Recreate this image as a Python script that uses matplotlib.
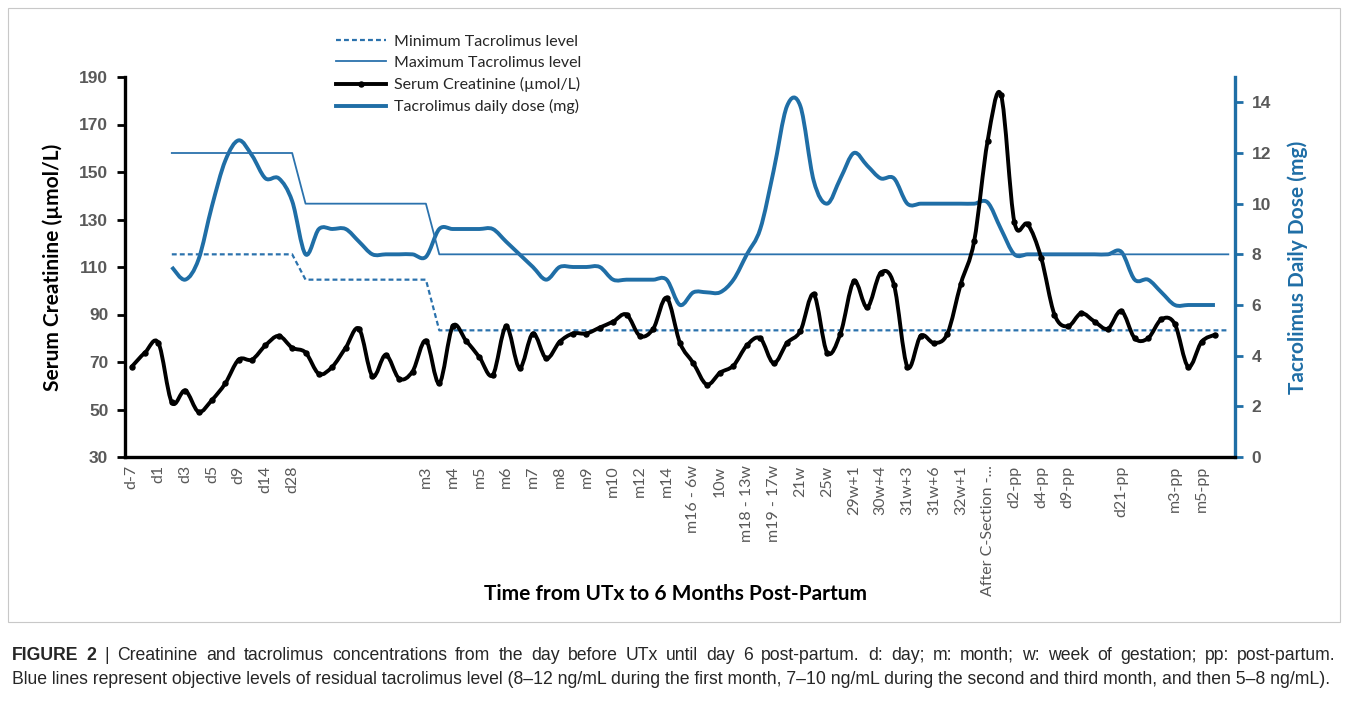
import matplotlib
matplotlib.use("Agg")
import matplotlib.pyplot as plt
from matplotlib.path import Path
from matplotlib.patches import PathPatch, Rectangle
from matplotlib.lines import Line2D

# =============================
# DATA
# =============================

# labels shown on every second category (index 0, 2, 4, ...)
X_LABELS = [
    "d-7", "d1", "d3", "d5", "d9", "d14", "d28", "", "", "", "",
    "m3", "m4", "m5", "m6", "m7", "m8", "m9", "m10", "m12", "m14",
    "m16 - 6w", "10w", "m18 - 13w", "m19 - 17w", "21w", "25w",
    "29w+1", "30w+4", "31w+3", "31w+6", "32w+1", "After C-Section -...",
    "d2-pp", "d4-pp", "d9-pp", "", "d21-pp", "", "m3-pp", "m5-pp", "",
]
N_CATEGORIES = 83

# serum creatinine (umol/L), categories 0..81
CREATININE = [
    68, 74, 78, 53, 58, 49, 54, 61, 71, 71,
    77, 81, 76, 74, 65, 68, 76, 84, 64, 73,
    63, 66, 79, 61, 85, 79, 72, 64.5, 85, 67.5,
    82, 71.5, 78.5, 82, 82, 84.5, 87, 90, 81, 84,
    97, 78, 69.5, 60.5, 65.5, 68.5, 77, 80, 69.5, 78,
    83, 98.5, 74, 82, 104, 93, 107.5, 102.5, 68, 81,
    78, 82, 103, 121, 163, 182.5, 129, 128, 114, 90,
    85, 90.5, 87, 84, 91.5, 80, 80, 88, 86, 68,
    78.5, 81.5,
]

# tacrolimus daily dose (mg), categories 3..81
DOSE_START = 3
DOSE = [
    7.5, 7.0, 7.8, 9.9, 11.7, 12.5, 11.9, 11.0, 11.0, 10.1,
    8.0, 9.0, 9.0, 9.0, 8.5, 8.0, 8.0, 8.0, 8.0, 7.9,
    9.0, 9.0, 9.0, 9.0, 9.0, 8.5, 8.0, 7.5, 7.0, 7.5,
    7.5, 7.5, 7.5, 7.0, 7.0, 7.0, 7.0, 7.0, 6.0, 6.5,
    6.5, 6.5, 7.0, 8.0, 9.0, 11.3, 13.85, 13.85, 10.9, 10.0,
    11.0, 12.0, 11.5, 11.0, 11.0, 10.0, 10.0, 10.0, 10.0, 10.0,
    10.0, 10.05, 9.0, 8.0, 8.0, 8.0, 8.0, 8.0, 8.0, 8.0,
    8.0, 8.1, 7.0, 7.0, 6.5, 6.0, 6.0, 6.0, 6.0,
]

# objective residual tacrolimus levels (ng/mL), categories 3..82
LEVEL_START = 3
MAX_LEVEL = [12] * 10 + [10] * 10 + [8] * 60
MIN_LEVEL = [8] * 10 + [7] * 10 + [5] * 60

CAPTION_1 = ("| Creatinine and tacrolimus concentrations from the day before UTx until day 6 "
             "post-partum. d: day; m: month; w: week of gestation; pp: post-partum.")
CAPTION_2 = ("Blue lines represent objective levels of residual tacrolimus level (8\u201312 ng/mL "
             "during the first month, 7\u201310 ng/mL during the second and third month, "
             "and then 5\u20138 ng/mL).")

# =============================
# STYLE
# =============================
BLUE = "#1f6ea6"
LEVEL_BLUE = "#2b72ad"
GREY = "#595959"
UI_FONT = "Lato"
NUM_FONT = "Liberation Sans"
W, H = 1348, 704


def smooth_path(x, y):
    # cubic bezier through every point, like Excel's "smoothed line"
    verts = [(x[0], y[0])]
    codes = [Path.MOVETO]
    n = len(x)
    for i in range(n - 1):
        a = i - 1 if i > 0 else i
        d = i + 2 if i + 2 < n else i + 1
        c1 = (x[i] + (x[i + 1] - x[a]) / 6.0, y[i] + (y[i + 1] - y[a]) / 6.0)
        c2 = (x[i + 1] - (x[d] - x[i]) / 6.0, y[i + 1] - (y[d] - y[i]) / 6.0)
        verts += [c1, c2, (x[i + 1], y[i + 1])]
        codes += [Path.CURVE4] * 3
    return Path(verts, codes)


def justified_line(fig, words, y_px, x0_px, x1_px, size):
    # words: list of (text, weight); spread them across the full width
    renderer = fig.canvas.get_renderer()
    texts = []
    widths = []
    for word, weight in words:
        t = fig.text(0, 1 - y_px / H, word, fontsize=size, fontweight=weight,
                     family=NUM_FONT, color="#262626", va="baseline", ha="left")
        texts.append(t)
        widths.append(t.get_window_extent(renderer).width)
    gap = (x1_px - x0_px - sum(widths)) / (len(words) - 1)
    x = x0_px
    for t, w in zip(texts, widths):
        t.set_x(x / W)
        x += w + gap


def main():
    fig = plt.figure(figsize=(W / 100, H / 100), dpi=100)

    # light frame round the chart
    fig.add_artist(Rectangle((8 / W, 1 - 622 / H), 1332 / W, 614 / H,
                             transform=fig.transFigure, fill=False,
                             edgecolor="#c8c8c8", linewidth=0.8))

    ax = fig.add_axes([125 / W, 1 - 457 / H, 1110 / W, 380 / H])
    ax2 = ax.twinx()
    ax.set_zorder(ax2.get_zorder() + 1)
    ax.patch.set_visible(False)

    # ---- tacrolimus (right axis) ----
    lvl_x = list(range(LEVEL_START, LEVEL_START + len(MAX_LEVEL)))
    ax2.plot(lvl_x, MIN_LEVEL, color=LEVEL_BLUE, lw=1.6, linestyle=(0, (2.2, 1.4)))
    ax2.plot(lvl_x, MAX_LEVEL, color=LEVEL_BLUE, lw=1.3)

    dose_x = list(range(DOSE_START, DOSE_START + len(DOSE)))
    ax2.add_patch(PathPatch(smooth_path(dose_x, DOSE), facecolor="none",
                            edgecolor=BLUE, lw=2.8, capstyle="butt", joinstyle="round"))

    # ---- creatinine (left axis) ----
    cr_x = list(range(len(CREATININE)))
    ax.add_patch(PathPatch(smooth_path(cr_x, CREATININE), facecolor="none",
                           edgecolor="black", lw=2.8, capstyle="round", joinstyle="round"))
    ax.plot(cr_x, CREATININE, linestyle="none", marker="o", ms=3.6, color="black")

    # ---- axes ----
    ax.set_xlim(-0.5, N_CATEGORIES - 0.5)
    ax.set_ylim(30, 190)
    ax2.set_ylim(0, 15)

    ax.set_yticks(range(30, 191, 20))
    ax2.set_yticks(range(0, 15, 2))
    ax.set_xticks(range(0, N_CATEGORIES, 2))
    ax.set_xticklabels(X_LABELS, rotation=90, fontsize=11.5, color=GREY,
                       family=UI_FONT, va="top", ha="center")
    ax.tick_params(axis="x", length=0, pad=6)

    for lab in ax.get_yticklabels() + ax2.get_yticklabels():
        lab.set_fontfamily(NUM_FONT)
        lab.set_fontweight("bold")
        lab.set_fontsize(12.5)
        lab.set_color(GREY)

    ax.tick_params(axis="y", length=6, width=2, color="black", pad=6)
    ax2.tick_params(axis="y", length=6, width=2, color=BLUE, pad=6)

    for a in (ax, ax2):
        a.spines["top"].set_visible(False)
    ax.spines["right"].set_visible(False)
    ax2.spines["left"].set_visible(False)
    ax2.spines["bottom"].set_visible(False)
    ax.spines["left"].set_linewidth(2.4)
    ax.spines["bottom"].set_linewidth(2.4)
    ax2.spines["right"].set_linewidth(2.4)
    ax2.spines["right"].set_color(BLUE)

    ax.set_ylabel("Serum Creatinine (\u00b5mol/L)", fontsize=15, fontweight="bold",
                  family=UI_FONT, labelpad=12)
    ax2.set_ylabel("Tacrolimus Daily Dose (mg)", fontsize=15, fontweight="bold",
                   family=UI_FONT, color=BLUE, labelpad=12)
    fig.text(675 / W, 1 - 594 / H, "Time from UTx to 6 Months Post-Partum",
             ha="center", va="center", fontsize=15, fontweight="bold", family=UI_FONT)

    # ---- legend ----
    handles = [
        Line2D([], [], color=LEVEL_BLUE, lw=1.6, linestyle=(0, (2.2, 1.4))),
        Line2D([], [], color=LEVEL_BLUE, lw=1.3),
        Line2D([], [], color="black", lw=2.8, marker="o", ms=3.6),
        Line2D([], [], color=BLUE, lw=2.8),
    ]
    labels = ["Minimum Tacrolimus level", "Maximum Tacrolimus level",
              "Serum Creatinine (\u00b5mol/L)", "Tacrolimus daily dose (mg)"]
    fig.legend(handles, labels, loc="upper left", bbox_to_anchor=(322 / W, 1 - 20 / H),
               frameon=False, handlelength=3.1, handletextpad=0.5, labelspacing=0.45,
               prop={"family": UI_FONT, "size": 11.5}, labelcolor="#262626")

    # ---- caption (first line justified, second line flush left) ----
    words = [("FIGURE", "bold"), ("2", "bold")] + [(w, "normal") for w in CAPTION_1.split()]
    justified_line(fig, words, 660, 12, 1336, 12.7)
    fig.text(12 / W, 1 - 684 / H, CAPTION_2, fontsize=12.7, family=NUM_FONT,
             color="#262626", va="baseline", ha="left")

    fig.savefig("out.png", dpi=100)
    plt.close(fig)


if __name__ == "__main__":
    main()
